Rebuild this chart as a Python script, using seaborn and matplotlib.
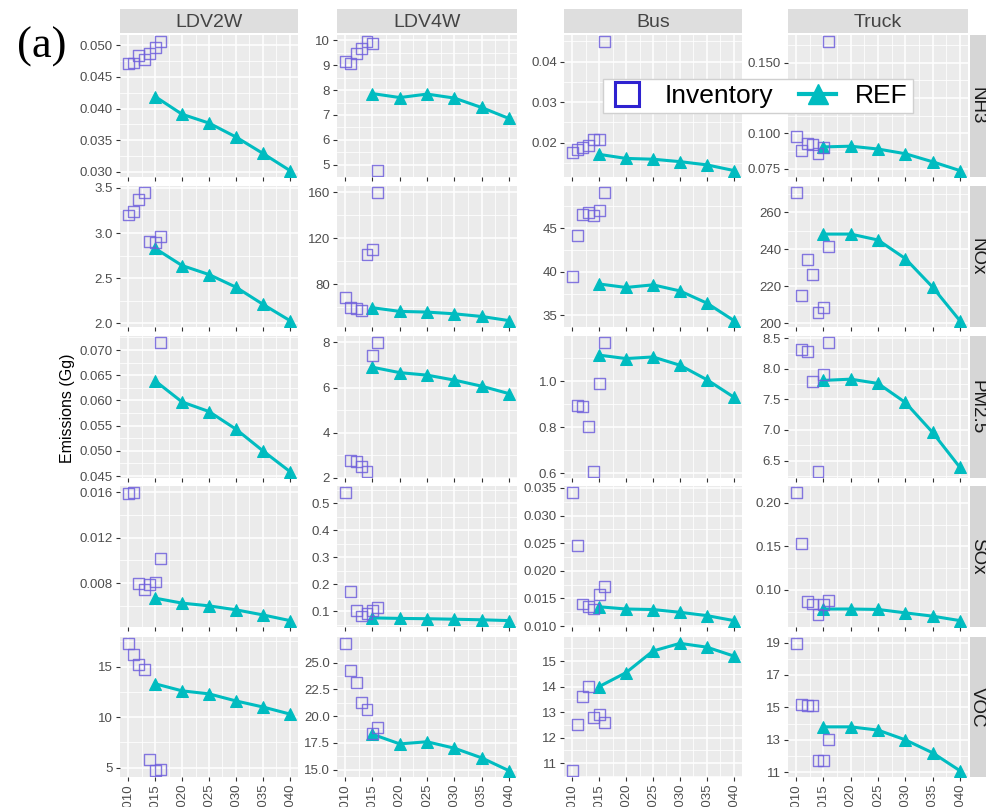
import numpy as np
import pandas as pd
import matplotlib
matplotlib.use("Agg")
import matplotlib.pyplot as plt
from matplotlib.lines import Line2D
import seaborn as sns

# Values
vehicles = ["LDV2W", "LDV4W", "Bus", "Truck"]
pollutants = ["NH3", "NOx", "PM2.5", "SOx", "VOC"]
inv_years = [2010, 2011, 2012, 2013, 2014, 2015, 2016]
ref_years = [2015, 2020, 2025, 2030, 2035, 2040]
x_ticks = [2010, 2015, 2020, 2025, 2030, 2035, 2040]
nan = np.nan

# one row per vehicle (LDV2W, LDV4W, Bus, Truck)
inv_nh3 = [
    [0.0471, 0.0472, 0.0484, 0.0478, 0.0487, 0.0496, 0.0506],
    [9.14, 9.07, 9.47, 9.66, 9.96, 9.89, 4.76],
    [0.0175, 0.0183, 0.0189, 0.0192, 0.0208, 0.0208, 0.0450],
    [0.098, 0.088, 0.093, 0.092, 0.086, 0.090, 0.165],
]
ref_nh3 = [
    [0.0419, 0.0391, 0.0377, 0.0355, 0.0329, 0.0302],
    [7.86, 7.70, 7.84, 7.68, 7.30, 6.86],
    [0.0171, 0.0161, 0.0159, 0.0153, 0.0145, 0.0131],
    [0.0905, 0.0910, 0.0890, 0.0857, 0.0800, 0.0738],
]
inv_nox = [
    [3.20, 3.24, 3.37, 3.45, 2.91, 2.90, 2.96],
    [68.8, 60.0, 59.4, 57.4, 105.9, 110.3, 160.0],
    [39.5, 44.2, 46.6, 46.8, 46.5, 47.0, 49.1],
    [270.7, 215.0, 234.7, 226.3, 206.0, 208.7, 241.3],
]
ref_nox = [
    [2.83, 2.64, 2.54, 2.40, 2.21, 2.03],
    [59.7, 56.5, 55.9, 54.4, 52.1, 48.5],
    [38.6, 38.2, 38.5, 37.8, 36.4, 34.4],
    [248.2, 248.2, 245.0, 235.0, 219.6, 201.5],
]
inv_pm25 = [
    [nan, nan, nan, nan, nan, nan, 0.0715],
    [nan, 2.74, 2.70, 2.48, 2.27, 7.42, 8.00],
    [nan, 0.895, 0.888, 0.803, 0.607, 0.990, 1.168],
    [nan, 8.32, 8.28, 7.79, 6.32, 7.90, 8.43],
]
ref_pm25 = [
    [0.0639, 0.0597, 0.0578, 0.0543, 0.0500, 0.0459],
    [6.90, 6.66, 6.55, 6.33, 6.06, 5.73],
    [1.113, 1.098, 1.105, 1.069, 1.006, 0.930],
    [7.81, 7.83, 7.76, 7.45, 6.96, 6.39],
]
inv_sox = [
    [0.0159, 0.0160, 0.0080, 0.00747, 0.0079, 0.0081, 0.0102],
    [0.540, 0.173, 0.104, 0.083, 0.093, 0.104, 0.115],
    [0.0342, 0.0246, 0.0140, 0.0136, 0.0131, 0.0158, 0.0172],
    [0.212, 0.153, 0.0869, 0.0838, 0.0714, 0.0830, 0.0876],
]
ref_sox = [
    [0.00668, 0.00624, 0.0060, 0.00565, 0.0052, 0.0047],
    [0.076, 0.074, 0.073, 0.071, 0.069, 0.066],
    [0.0135, 0.0131, 0.0130, 0.0125, 0.0119, 0.0110],
    [0.0780, 0.0780, 0.0775, 0.0736, 0.0698, 0.0647],
]
inv_voc = [
    [17.3, 16.2, 15.2, 14.7, 5.8, 4.7, 4.8],
    [26.8, 24.3, 23.1, 21.3, 20.6, 18.4, 18.9],
    [10.7, 12.5, 13.6, 14.0, 12.8, 12.9, 12.6],
    [18.95, 15.2, 15.1, 15.1, 11.7, 11.75, 13.0],
]
ref_voc = [
    [13.3, 12.6, 12.3, 11.6, 11.0, 10.3],
    [18.3, 17.4, 17.6, 17.0, 16.1, 14.9],
    [14.0, 14.55, 15.4, 15.7, 15.55, 15.2],
    [13.8, 13.8, 13.6, 13.0, 12.2, 11.1],
]

# y tick breaks shown on each panel
yticks_nh3 = [[0.030, 0.035, 0.040, 0.045, 0.050], [5, 6, 7, 8, 9, 10],
              [0.02, 0.03, 0.04], [0.075, 0.100, 0.125, 0.150]]
yticks_nox = [[2.0, 2.5, 3.0, 3.5], [80, 120, 160], [35, 40, 45], [200, 220, 240, 260]]
yticks_pm25 = [[0.045, 0.050, 0.055, 0.060, 0.065, 0.070], [2, 4, 6, 8],
               [0.6, 0.8, 1.0], [6.5, 7.0, 7.5, 8.0, 8.5]]
yticks_sox = [[0.008, 0.012, 0.016], [0.1, 0.2, 0.3, 0.4, 0.5],
              [0.010, 0.015, 0.020, 0.025, 0.030, 0.035], [0.10, 0.15, 0.20]]
yticks_voc = [[5, 10, 15], [15.0, 17.5, 20.0, 22.5, 25.0],
              [11, 12, 13, 14, 15], [11, 13, 15, 17, 19]]

inv_tables = dict(zip(pollutants, [inv_nh3, inv_nox, inv_pm25, inv_sox, inv_voc]))
ref_tables = dict(zip(pollutants, [ref_nh3, ref_nox, ref_pm25, ref_sox, ref_voc]))
ytick_tables = dict(zip(pollutants, [yticks_nh3, yticks_nox, yticks_pm25, yticks_sox, yticks_voc]))

# long format tables
rows = []
for p in pollutants:
    for v, vals in zip(vehicles, inv_tables[p]):
        for yr, val in zip(inv_years, vals):
            rows.append((p, v, yr, val))
inv_df = pd.DataFrame(rows, columns=["pollutant", "vehicle", "year", "value"]).dropna()

rows = []
for p in pollutants:
    for v, vals in zip(vehicles, ref_tables[p]):
        for yr, val in zip(ref_years, vals):
            rows.append((p, v, yr, val))
ref_df = pd.DataFrame(rows, columns=["pollutant", "vehicle", "year", "value"])

INV_C = "#7060dc"
REF_C = "#00bcc0"

plt.rcParams["font.family"] = ["Liberation Sans", "DejaVu Sans"]

W, H = 987, 807
fig = plt.figure(figsize=(W / 100, H / 100), dpi=100)
fig.patch.set_facecolor("white")


def box(l, t, r, b):
    return [l / W, 1 - b / H, (r - l) / W, (b - t) / H]


col_l = [120, 337, 564, 788]
col_r = [298, 517, 742, 968]
row_t = [35, 186, 336, 486, 637]
row_b = [177, 327, 478, 627, 777]


def fmt_ticks(ticks):
    dec = 0
    for t in ticks:
        s = f"{t:.6f}".rstrip("0")
        dec = max(dec, len(s.split(".")[1]))
    return [f"{t:.{dec}f}" for t in ticks]


for i, p in enumerate(pollutants):
    for j, v in enumerate(vehicles):
        ax = fig.add_axes(box(col_l[j], row_t[i], col_r[j], row_b[i]))
        ax.set_facecolor("#ebebeb")
        sub_inv = inv_df[(inv_df.pollutant == p) & (inv_df.vehicle == v)]
        sub_ref = ref_df[(ref_df.pollutant == p) & (ref_df.vehicle == v)]
        sns.lineplot(data=sub_ref, x="year", y="value", color=REF_C, linewidth=2.2,
                     marker="^", markersize=9, markeredgecolor=REF_C, ax=ax, zorder=3)
        sns.scatterplot(data=sub_inv, x="year", y="value", marker="s", s=62,
                        color=INV_C, facecolor="none", edgecolor=INV_C,
                        linewidth=1.0, alpha=0.85, ax=ax, zorder=4)
        ax.set_xlabel("")
        ax.set_ylabel("")
        for s in ax.spines.values():
            s.set_visible(False)

        ax.set_xlim(2008.5, 2041.5)
        ax.set_xticks(x_ticks)
        ax.set_xticks([t + 2.5 for t in x_ticks[:-1]], minor=True)

        lo, hi = ax.get_ylim()
        yt = ytick_tables[p][j]
        step = yt[1] - yt[0]
        minor = np.arange(yt[0] - step / 2, hi, step)
        ax.set_yticks(yt)
        ax.set_yticklabels(fmt_ticks(yt))
        ax.set_yticks([m for m in minor if lo < m < hi], minor=True)
        ax.set_ylim(lo, hi)

        ax.set_axisbelow(True)
        ax.grid(which="major", color="white", linewidth=1.1)
        ax.grid(which="minor", color="white", linewidth=0.55)
        ax.tick_params(which="minor", length=0)
        ax.tick_params(which="major", length=3, width=0.8, color="#333333",
                       labelsize=9.5, labelcolor="#4d4d4d", pad=2)
        if i == len(pollutants) - 1:
            ax.set_xticklabels([str(t) for t in x_ticks], rotation=90)
        else:
            ax.tick_params(labelbottom=False)

# strips on top
for j, v in enumerate(vehicles):
    sax = fig.add_axes(box(col_l[j], 9, col_r[j], 33))
    sax.set_facecolor("#dedede")
    sax.set_xticks([])
    sax.set_yticks([])
    for s in sax.spines.values():
        s.set_visible(False)
    sax.text(0.5, 0.45, v, ha="center", va="center", fontsize=14,
             color="#444444", transform=sax.transAxes)

# strips on the right
for i, p in enumerate(pollutants):
    sax = fig.add_axes(box(970, row_t[i], 994, row_b[i]))
    sax.set_facecolor("#d6d6d6")
    sax.set_xticks([])
    sax.set_yticks([])
    for s in sax.spines.values():
        s.set_visible(False)
    sax.text(0.3, 0.5, p, ha="center", va="center", rotation=-90, fontsize=13.5,
             color="#1a1a1a", transform=sax.transAxes)

fig.text(42 / W, 1 - 47 / H, "(a)", fontsize=32, family="Liberation Serif",
         ha="center", va="center")
fig.text(68 / W, 1 - 408 / H, "Emissions (Gg)", rotation=90, fontsize=11.5,
         ha="center", va="center", color="black")

handles = [
    Line2D([], [], linestyle="none", marker="s", markersize=17, markerfacecolor="none",
           markeredgecolor="#2e22d0", markeredgewidth=2.2, label="Inventory"),
    Line2D([], [], color=REF_C, linewidth=3, marker="^", markersize=14,
           markeredgecolor=REF_C, label="REF"),
]
fig.legend(handles=handles, loc="center", bbox_to_anchor=(758 / W, 1 - 96 / H), ncol=2,
           fontsize=19, frameon=True, fancybox=False, framealpha=1, edgecolor="#d0d0d0",
           handlelength=1.4, handletextpad=0.7, columnspacing=1.0, borderpad=0.2)

fig.savefig("out.png", dpi=100)
